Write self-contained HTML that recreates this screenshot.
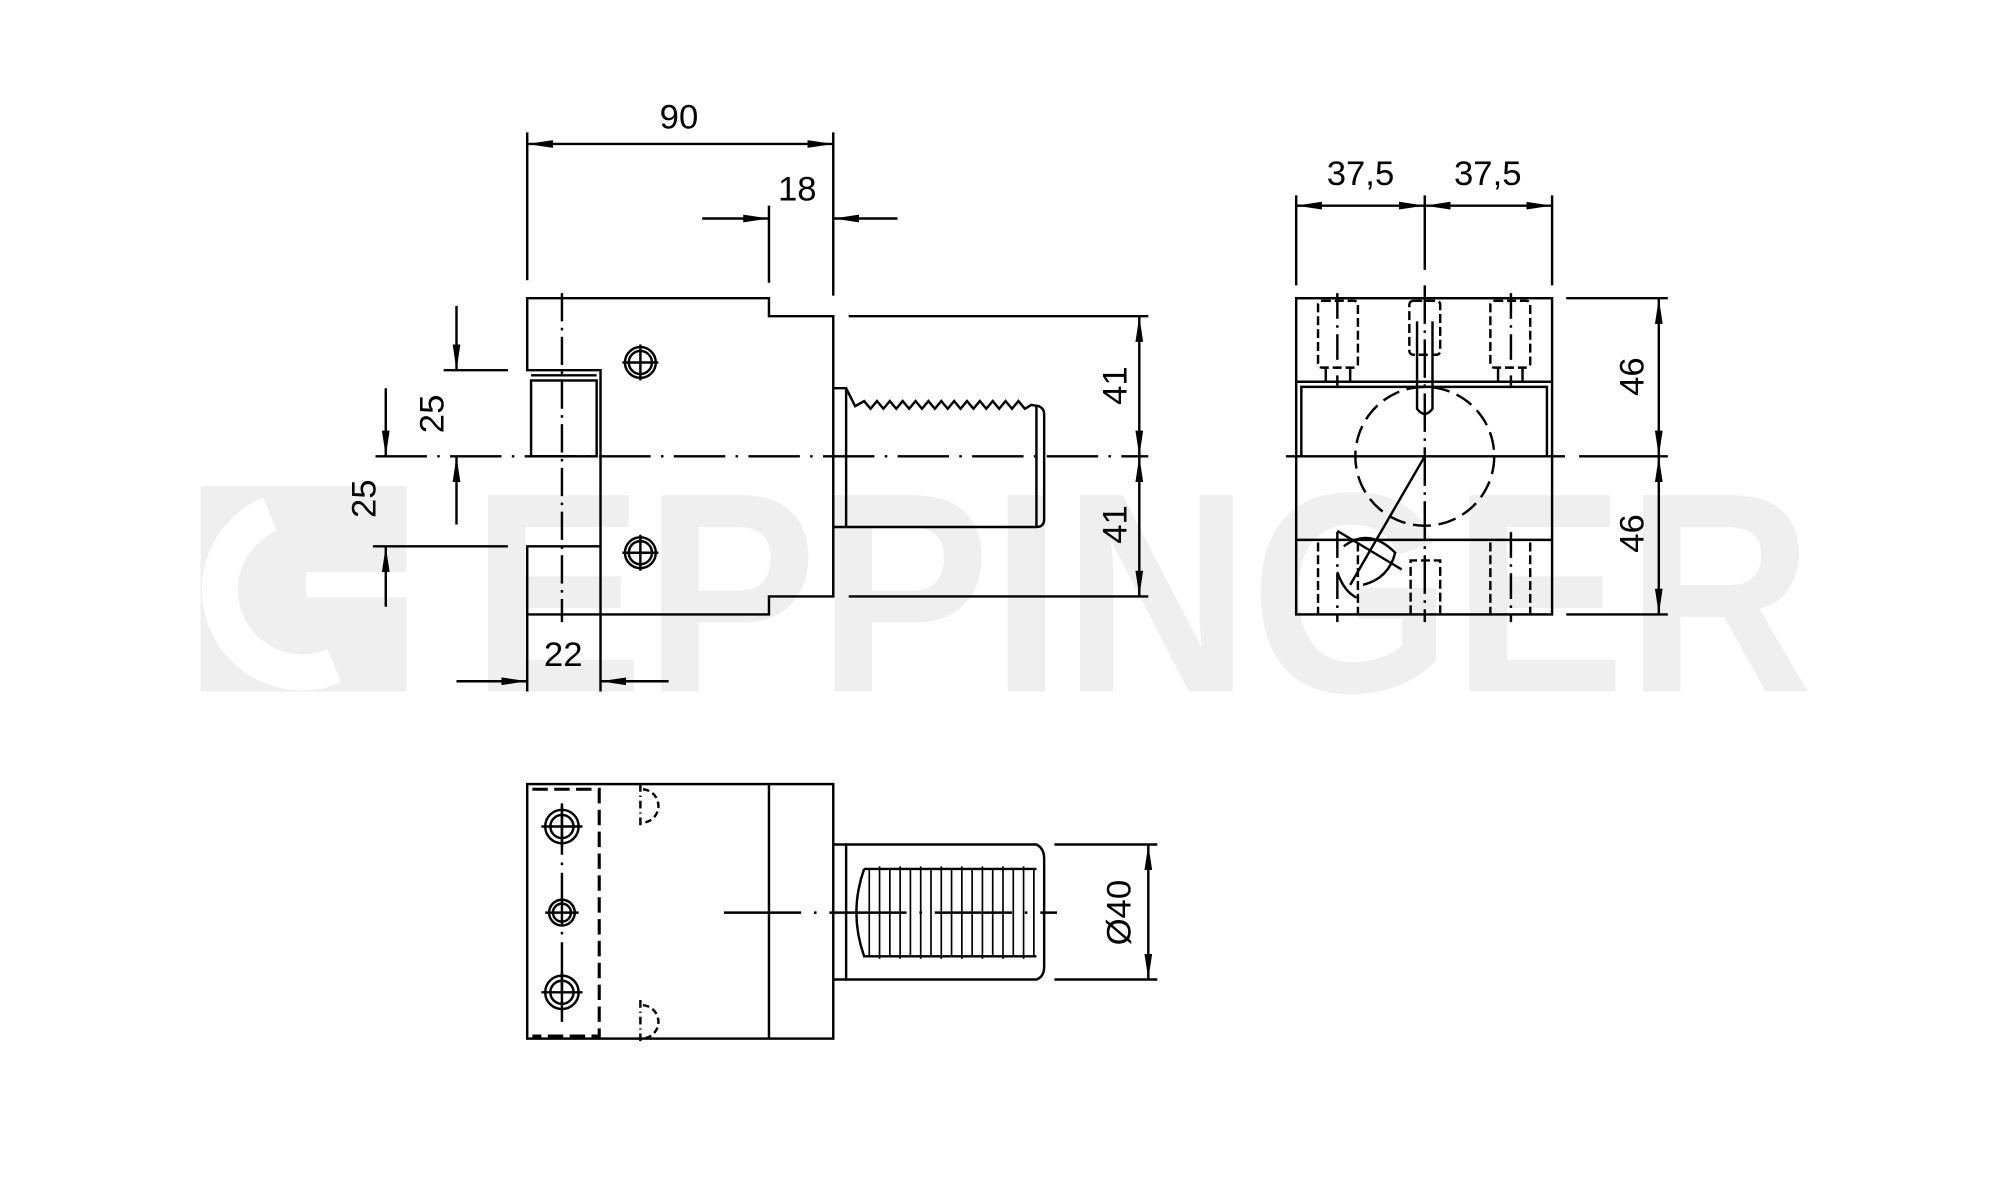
<!DOCTYPE html>
<html><head><meta charset="utf-8"><style>
html,body{margin:0;padding:0;background:#fff;}
svg{display:block;}
text{font-family:"Liberation Sans",sans-serif;fill:#000;}
</style></head><body>
<svg width="2006" height="1180" viewBox="0 0 1560 918" preserveAspectRatio="none" xmlns="http://www.w3.org/2000/svg">
<defs>
<marker id="a" viewBox="0 0 20 8" refX="20" refY="4" markerWidth="20" markerHeight="8" markerUnits="userSpaceOnUse" orient="auto-start-reverse"><path d="M0,1 L20,4 L0,7 Z" fill="#000"/></marker>
</defs>
<!-- watermark -->
<g fill="#efefef">
<rect x="156" y="378" width="160" height="160"/>
</g>
<g fill="none" stroke="#fff">
<path d="M210,400 A58,58 0 1 0 260,518" stroke-width="28"/>
</g>
<rect x="238" y="445" width="78" height="20" fill="#fff"/>
<text x="366" y="538" font-size="222" font-weight="bold" textLength="1044" lengthAdjust="spacingAndGlyphs" style="fill:#efefef">EPPINGER</text>

<g stroke="#000" stroke-width="1.9" fill="none">
<!-- FRONT VIEW -->
<path d="M410,232 H598 V246 H648 V464 H598 V478 H410 V425 H467 V288 H410 Z"/>
<rect x="413" y="296" width="51" height="59"/>
<line x1="413" y1="292" x2="464" y2="292"/>
<line x1="467" y1="425" x2="467" y2="538"/>
<line x1="437" y1="228" x2="437" y2="484" stroke-dasharray="22,5,2,5"/>
<circle cx="498" cy="282" r="9"/><circle cx="498" cy="282" r="12"/>
<line x1="484" y1="282" x2="512" y2="282"/><line x1="498" y1="268" x2="498" y2="296"/>
<circle cx="498" cy="430" r="9"/><circle cx="498" cy="430" r="12"/>
<line x1="484" y1="430" x2="512" y2="430"/><line x1="498" y1="416" x2="498" y2="444"/>
<!-- shank -->
<path d="M648,302 H658 L665,316 L672,312 L677,318 L682,312 L687,318 L692,312 L697,318 L702,312 L707,318 L712,312 L717,318 L722,312 L727,318 L732,312 L737,318 L742,312 L747,318 L752,312 L757,318 L762,312 L767,318 L772,312 L777,318 L782,312 L787,318 L792,312 L797,318 L802,315 L808,316 Q812,318 812,322 V404 Q812,410 806,410 H648"/>
<line x1="658" y1="302" x2="658" y2="410"/>
<line x1="806" y1="316" x2="806" y2="410"/>
<line x1="660" y1="246" x2="893" y2="246"/>
<line x1="660" y1="464" x2="893" y2="464"/>
<line x1="292" y1="355" x2="893" y2="355" stroke-dasharray="40,8,2,8"/>
<!-- dims front -->
<line x1="410" y1="103" x2="410" y2="218"/>
<line x1="648" y1="103" x2="648" y2="230"/>
<line x1="410" y1="112" x2="648" y2="112" marker-start="url(#a)" marker-end="url(#a)"/>
<line x1="598" y1="160" x2="598" y2="220"/>
<line x1="546" y1="170" x2="598" y2="170" marker-end="url(#a)"/>
<line x1="698" y1="170" x2="648" y2="170" marker-end="url(#a)"/>
<line x1="886" y1="246" x2="886" y2="355" marker-start="url(#a)" marker-end="url(#a)"/>
<line x1="886" y1="355" x2="886" y2="464" marker-start="url(#a)" marker-end="url(#a)"/>
<line x1="345" y1="288" x2="395" y2="288"/>
<line x1="355" y1="238" x2="355" y2="288" marker-end="url(#a)"/>
<line x1="355" y1="408" x2="355" y2="355" marker-end="url(#a)"/>
<line x1="290" y1="425" x2="395" y2="425"/>
<line x1="300" y1="302" x2="300" y2="355" marker-end="url(#a)"/>
<line x1="300" y1="472" x2="300" y2="425" marker-end="url(#a)"/>
<line x1="410" y1="478" x2="410" y2="538"/>
<line x1="355" y1="530" x2="410" y2="530" marker-end="url(#a)"/>
<line x1="520" y1="530" x2="467" y2="530" marker-end="url(#a)"/>

<!-- SIDE VIEW -->
<rect x="1008" y="232" width="199" height="246"/>
<line x1="1008" y1="297" x2="1207" y2="297"/>
<path d="M1012,355 V301 H1203 V355"/>
<line x1="1008" y1="420" x2="1207" y2="420"/>
<line x1="1000" y1="355" x2="1217" y2="355"/>
<line x1="1228" y1="355" x2="1297" y2="355"/>
<circle cx="1108" cy="355" r="54" stroke-dasharray="14,6"/>
<line x1="1108" y1="222" x2="1108" y2="484" stroke-dasharray="30,5,2,5"/>
<line x1="1040" y1="228" x2="1040" y2="300" stroke-dasharray="20,5,2,5"/>
<line x1="1175" y1="228" x2="1175" y2="300" stroke-dasharray="20,5,2,5"/>
<line x1="1040" y1="414" x2="1040" y2="484" stroke-dasharray="20,5,2,5"/>
<line x1="1175" y1="414" x2="1175" y2="484" stroke-dasharray="20,5,2,5"/>
<g stroke-dasharray="7,3">
<rect x="1025" y="234" width="31" height="52" rx="3"/>
<rect x="1159" y="234" width="31" height="52" rx="3"/>
<rect x="1096" y="234" width="24" height="42" rx="3"/>
<line x1="1025" y1="422" x2="1025" y2="478"/><line x1="1056" y1="422" x2="1056" y2="478"/>
<line x1="1159" y1="422" x2="1159" y2="478"/><line x1="1190" y1="422" x2="1190" y2="478"/>
<path d="M1097,478 V436 H1120 V478"/>
</g>
<path d="M1031,286 V297 M1050,286 V297 M1165,286 V297 M1184,286 V297"/>
<path d="M1102,250 V318 Q1108,326 1114,318 V250"/>
<line x1="1108" y1="355" x2="1050" y2="455"/>
<path d="M1045,425 Q1065,410 1085,430 Q1080,450 1060,455 M1040,445 Q1045,460 1055,465"/>
<line x1="1040" y1="413" x2="1090" y2="443"/>
<!-- side dims -->
<line x1="1008" y1="152" x2="1008" y2="222"/>
<line x1="1108" y1="152" x2="1108" y2="210"/>
<line x1="1207" y1="152" x2="1207" y2="222"/>
<line x1="1008" y1="160" x2="1108" y2="160" marker-start="url(#a)" marker-end="url(#a)"/>
<line x1="1108" y1="160" x2="1207" y2="160" marker-start="url(#a)" marker-end="url(#a)"/>
<line x1="1218" y1="232" x2="1297" y2="232"/>
<line x1="1218" y1="478" x2="1297" y2="478"/>
<line x1="1290" y1="232" x2="1290" y2="355" marker-start="url(#a)" marker-end="url(#a)"/>
<line x1="1290" y1="355" x2="1290" y2="478" marker-start="url(#a)" marker-end="url(#a)"/>

<!-- BOTTOM VIEW -->
<rect x="410" y="610" width="238" height="198"/>
<line x1="598" y1="610" x2="598" y2="808"/>
<path d="M414,614 H466 V806 H414" stroke-dasharray="12,5" stroke-width="2.4"/>
<line x1="437" y1="625" x2="437" y2="795" stroke-dasharray="40,6,2,6"/>
<g>
<circle cx="437" cy="643" r="9"/><circle cx="437" cy="643" r="13"/>
<line x1="421" y1="643" x2="453" y2="643"/><line x1="437" y1="627" x2="437" y2="659"/>
<circle cx="437" cy="710" r="7"/><circle cx="437" cy="710" r="10"/>
<line x1="424" y1="710" x2="450" y2="710"/>
<circle cx="437" cy="772" r="9"/><circle cx="437" cy="772" r="13"/>
<line x1="421" y1="772" x2="453" y2="772"/><line x1="437" y1="756" x2="437" y2="788"/>
</g>
<path d="M500,614 A12,12 0 1 1 498,640" stroke-dasharray="5,3"/>
<path d="M500,782 A12,12 0 1 1 498,808" stroke-dasharray="5,3"/>
<line x1="498" y1="610" x2="498" y2="643" stroke-dasharray="6,3,1,3"/>
<line x1="498" y1="778" x2="498" y2="810" stroke-dasharray="6,3,1,3"/>
<!-- shank bottom -->
<path d="M648,657 H806 Q812,660 812,668 V752 Q812,760 806,762 H648"/>
<line x1="658" y1="657" x2="658" y2="762"/>
<path d="M672,676 Q660,710 672,744 H806 M672,676 H806"/>
<g stroke-width="1.3">
<path d="M676,676 V744 M684,674 V746 M692,676 V744 M700,674 V746 M708,676 V744 M716,674 V746 M724,676 V744 M732,674 V746 M740,676 V744 M748,674 V746 M756,676 V744 M764,674 V746 M772,676 V744 M780,674 V746 M788,676 V744 M796,674 V746 M804,676 V744"/>
</g>
<line x1="563" y1="710" x2="822" y2="710" stroke-dasharray="60,10,2,10"/>
<line x1="820" y1="657" x2="900" y2="657"/>
<line x1="820" y1="762" x2="900" y2="762"/>
<line x1="893" y1="657" x2="893" y2="762" marker-start="url(#a)" marker-end="url(#a)"/>
</g>

<!-- texts -->
<g font-size="27">
<text x="528" y="100" text-anchor="middle">90</text>
<text x="620" y="156" text-anchor="middle">18</text>
<text x="438" y="518" text-anchor="middle">22</text>
<text x="1058" y="144" text-anchor="middle">37,5</text>
<text x="1157" y="144" text-anchor="middle">37,5</text>
<text transform="translate(876,300) rotate(-90)" text-anchor="middle">41</text>
<text transform="translate(876,408) rotate(-90)" text-anchor="middle">41</text>
<text transform="translate(345,322) rotate(-90)" text-anchor="middle">25</text>
<text transform="translate(292,388) rotate(-90)" text-anchor="middle">25</text>
<text transform="translate(1278,293) rotate(-90)" text-anchor="middle">46</text>
<text transform="translate(1278,415) rotate(-90)" text-anchor="middle">46</text>
<text transform="translate(879,710) rotate(-90)" text-anchor="middle">Ø40</text>
</g>
</svg>
</body></html>
